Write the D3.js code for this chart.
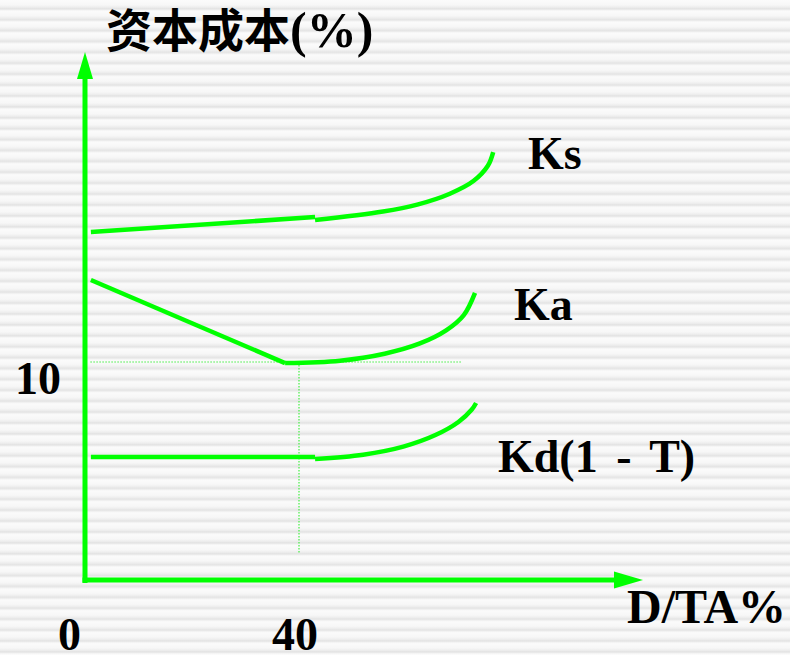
<!DOCTYPE html>
<html>
<head>
<meta charset="utf-8">
<script src="https://cdn.jsdelivr.net/npm/d3@7"></script>
<style>
  html, body { margin: 0; padding: 0; background: #fff; }
  svg { display: block; }
</style>
</head>
<body>
<svg id="chart" width="790" height="655"></svg>
<script>
// Cost of capital vs. debt ratio (D/TA %)
const xTicks = [0, 40];
const yTicks = [10];
const minDebtRatio = 40;   // optimal D/TA
const minWacc = 10;        // Ka at optimum

// Ks: cost of equity
const ksLinear = [[1.1, 15.96], [43.0, 16.65]];
const ksCurve = [[43.0, 16.51], [55.7, 16.9], [62.1, 17.22], [68.2, 17.72], [72.6, 18.3], [75.3, 19.0], [76.3, 19.63]];
// Ka: weighted average cost
const kaLinear = [[1.1, 13.76], [37.4, 9.95]];
const kaCurve = [[37.4, 9.95], [47.7, 10.06], [56.0, 10.38], [62.6, 10.85], [67.5, 11.45], [70.8, 12.15], [72.9, 13.17]];
// Kd(1-T): after-tax cost of debt
const kdLinear = [[1.1, 5.64], [43.0, 5.64]];
const kdCurve = [[43.0, 5.55], [52.0, 5.75], [59.5, 6.12], [65.5, 6.65], [69.8, 7.25], [72.3, 7.82], [73.1, 8.12]];

const seriesLabels = ["Ks", "Ka", "Kd(1 - T)"];

const svg = d3.select("#chart");
const W = 790, H = 655;

// striped backdrop
const defs = svg.append("defs");
const grad = defs.append("linearGradient").attr("id", "stripeGrad")
  .attr("x1", 0).attr("y1", 0).attr("x2", 0).attr("y2", 1);
[[0, "#fbfbfb"], [0.45, "#f7f7f7"], [0.7, "#ebebeb"], [0.8, "#e2e2e2"], [0.9, "#ededed"], [1, "#fbfbfb"]]
  .forEach(([o, c]) => grad.append("stop").attr("offset", o).attr("stop-color", c));
const pat = defs.append("pattern").attr("id", "stripes")
  .attr("patternUnits", "userSpaceOnUse").attr("width", W).attr("height", 10.9);
pat.append("rect").attr("width", W).attr("height", 10.9).attr("fill", "url(#stripeGrad)");
svg.append("rect").attr("width", W).attr("height", H).attr("fill", "url(#stripes)");

const x = d3.scaleLinear().domain([0, 40]).range([85, 299]);
const y = d3.scaleLinear().domain([0, 10]).range([580, 362]);

const green = "#00ff00";
const serif = "'Liberation Serif', 'Times New Roman', serif";

// reference lines at the optimum
svg.append("line")
  .attr("x1", x(1)).attr("x2", x(70.5))
  .attr("y1", y(minWacc)).attr("y2", y(minWacc))
  .attr("stroke", "#44ee44").attr("stroke-width", 1.2).attr("stroke-dasharray", "1.5,1.5");
svg.append("line")
  .attr("x1", x(minDebtRatio)).attr("x2", x(minDebtRatio))
  .attr("y1", y(minWacc)).attr("y2", y(1.2))
  .attr("stroke", "#44ee44").attr("stroke-width", 1.2).attr("stroke-dasharray", "1.5,1.5");

// axes with arrowheads
svg.append("line").attr("x1", x(0)).attr("x2", x(0)).attr("y1", y(0) + 3).attr("y2", 78)
  .attr("stroke", green).attr("stroke-width", 5);
svg.append("polygon").attr("points", `${x(0)},52 ${x(0) - 8},79 ${x(0) + 8},79`).attr("fill", green);
svg.append("line").attr("x1", x(0) - 2.5).attr("x2", 616).attr("y1", y(0)).attr("y2", y(0))
  .attr("stroke", green).attr("stroke-width", 5);
svg.append("polygon").attr("points", `643,${y(0)} 614,${y(0) - 8.5} 614,${y(0) + 8.5}`).attr("fill", green);

// curves
const lineGen = d3.line().x(d => x(d[0])).y(d => y(d[1]));
const curveGen = d3.line().x(d => x(d[0])).y(d => y(d[1])).curve(d3.curveCatmullRom.alpha(0.5));
[ksLinear, kaLinear, kdLinear].forEach(s =>
  svg.append("path").attr("d", lineGen(s)).attr("fill", "none")
    .attr("stroke", green).attr("stroke-width", 4.5));
[ksCurve, kaCurve, kdCurve].forEach(s =>
  svg.append("path").attr("d", curveGen(s)).attr("fill", "none")
    .attr("stroke", green).attr("stroke-width", 4.5));

// series labels
const labelPos = [[528, 169], [514, 320], [498, 472]];
seriesLabels.forEach((t, i) =>
  svg.append("text").attr("x", labelPos[i][0]).attr("y", labelPos[i][1])
    .attr("font-family", serif).attr("font-weight", "bold").attr("font-size", 46)
    .attr("word-spacing", 7)
    .attr("fill", "#000").attr("xml:space", "preserve").text(t));

// tick labels
xTicks.forEach(v =>
  svg.append("text").attr("x", x(v) - 27).attr("y", 650)
    .attr("font-family", serif).attr("font-weight", "bold").attr("font-size", 46)
    .attr("fill", "#000").text(v));
yTicks.forEach(v =>
  svg.append("text").attr("x", 61).attr("y", y(v) + 32).attr("text-anchor", "end")
    .attr("font-family", serif).attr("font-weight", "bold").attr("font-size", 46)
    .attr("fill", "#000").text(v));

// axis titles
svg.append("text").attr("x", 627).attr("y", 623)
  .attr("font-family", serif).attr("font-weight", "bold").attr("font-size", 48)
  .attr("fill", "#000").text("D/TA%");
const yTitle = svg.append("text").attr("x", 106).attr("y", 47).attr("fill", "#000");
yTitle.append("tspan").attr("font-family", "'Noto Sans CJK SC', sans-serif")
  .attr("font-weight", "bold").attr("font-size", 46).text("资本成本");
yTitle.append("tspan").attr("font-family", serif)
  .attr("font-weight", "bold").attr("font-size", 50).text("(%)");
</script>
</body>
</html>
